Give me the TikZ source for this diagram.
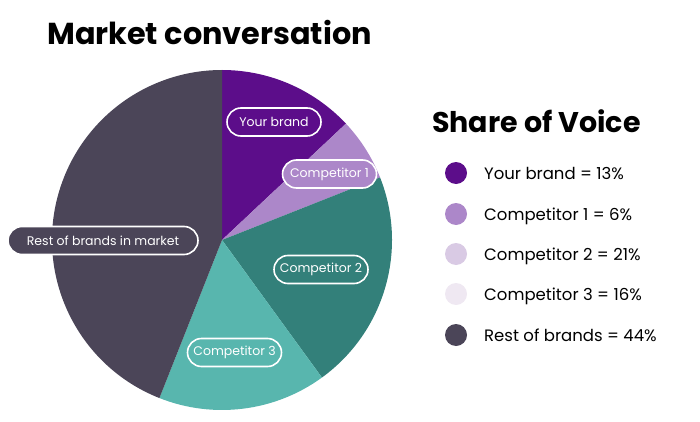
\documentclass[tikz,border=0pt]{standalone}
\usepackage{fontspec}
\setmainfont{Poppins}
\usepackage{tikz}

\definecolor{brand}{HTML}{5C0D8A}
\definecolor{compone}{HTML}{AC87C9}
\definecolor{comptwo}{HTML}{33807A}
\definecolor{compthree}{HTML}{58B6AE}
\definecolor{rest}{HTML}{4B4558}
\definecolor{keytwo}{HTML}{D9CAE4}
\definecolor{keythree}{HTML}{EFE8F2}

\tikzset{
  slicelabel/.style={draw=white, line width=1.6pt, rounded corners=14pt,
    minimum width=94pt, minimum height=28pt, inner sep=0pt,
    text=white, font=\fontsize{12.5}{14}\selectfont},
  keydot/.style={circle, minimum size=22pt, inner sep=0pt},
  keytext/.style={anchor=base west, inner sep=0pt, font=\fontsize{16.5}{20}\selectfont}
}

\begin{document}
\begin{tikzpicture}[x=1pt, y=-1pt]
    \useasboundingbox (0,0) rectangle (700,422);

    % draw title
    \node[anchor=base west, inner sep=0pt, font=\bfseries\fontsize{30.3}{34}\selectfont] (title) at (47,45) {Market conversation};

    % draw pie slices
    \coordinate (c) at (222,240);
    \foreach \a/\b/\col in {-90/-43.2/brand, -43.2/-21.6/compone, -21.6/54/comptwo, 54/111.6/compthree, 111.6/270/rest}
      \fill[\col] (c) -- ++(\a:170) arc[start angle=\a, end angle=\b, radius=170] -- cycle;

    % draw slice labels
    \node[slicelabel, fill=brand] (lbrand) at (274,122) {Your brand};
    \node[slicelabel, fill=compone] (lcompone) at (329.5,174) {Competitor 1};
    \node[slicelabel, fill=rest, minimum width=190pt] (lrest) at (103,240.5) {Rest of brands in market};
    \node[slicelabel, fill=comptwo] (lcomptwo) at (321,269.5) {Competitor 2};
    \node[slicelabel, fill=compthree] (lcompthree) at (234.5,352.5) {Competitor 3};

    % draw legend
    \node[anchor=base west, inner sep=0pt, font=\bfseries\fontsize{28.5}{32}\selectfont] (sov) at (432,132) {Share of Voice};

    \node[keydot, fill=brand] (kbrand) at (456,173) {};
    \node[keydot, fill=compone] (kcompone) at (456,214) {};
    \node[keydot, fill=keytwo] (kcomptwo) at (456,254) {};
    \node[keydot, fill=keythree] (kcompthree) at (456,294) {};
    \node[keydot, fill=rest] (krest) at (456,335) {};

    \node[keytext] (tbrand) at (484,179) {Your brand = 13\%};
    \node[keytext] (tcompone) at (484,220) {Competitor 1 = 6\%};
    \node[keytext] (tcomptwo) at (484,260) {Competitor 2 = 21\%};
    \node[keytext] (tcompthree) at (484,300) {Competitor 3 = 16\%};
    \node[keytext] (trest) at (484,341) {Rest of brands = 44\%};

  \end{tikzpicture}
\end{document}
